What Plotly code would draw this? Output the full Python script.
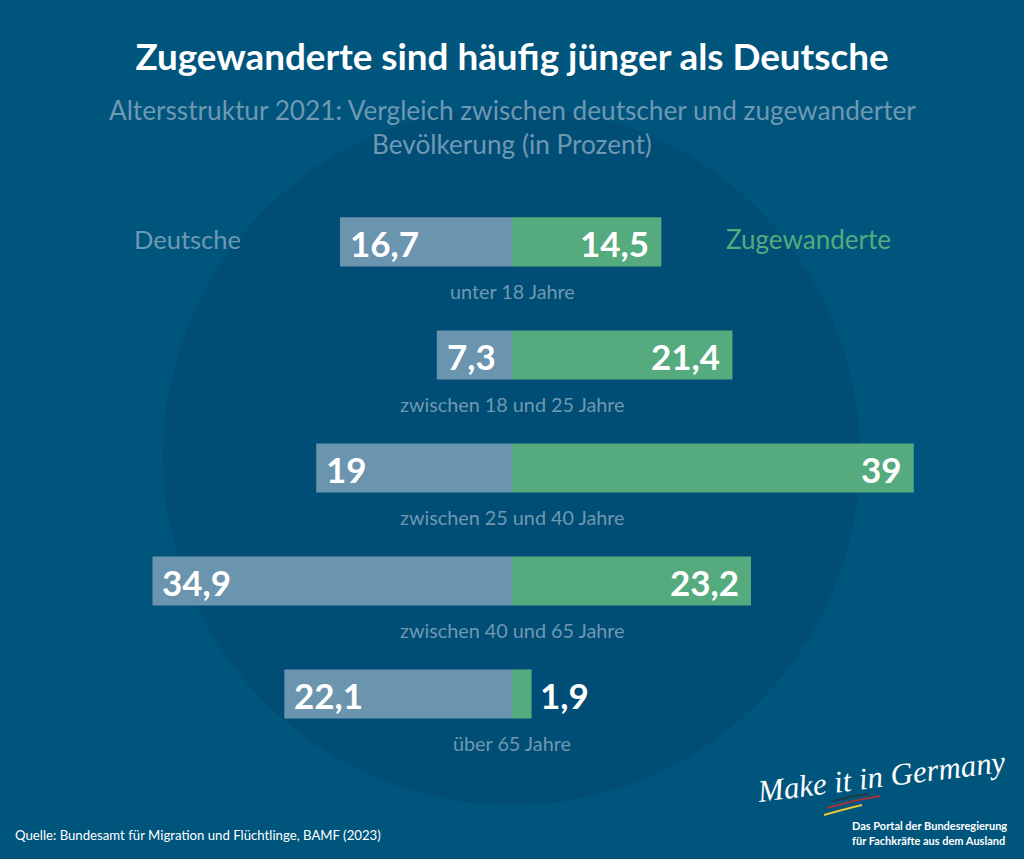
import plotly.graph_objects as go

# Data
categories = ["unter 18 Jahre", "zwischen 18 und 25 Jahre", "zwischen 25 und 40 Jahre",
              "zwischen 40 und 65 Jahre", "über 65 Jahre"]
deutsche = [16.7, 7.3, 19, 34.9, 22.1]
zugewanderte = [14.5, 21.4, 39, 23.2, 1.9]

W, H = 1024, 859
BG, CIRCLE = "#00557d", "#004d75"
BLUE, GREEN = "#6b94ae", "#55ab7e"
LABEL = "#6f98b2"
FONT = "Lato"

def fmt(v):
    return str(v).replace(".", ",")

fig = go.Figure()
fig.add_bar(y=categories, x=[-v for v in deutsche], orientation="h", name="Deutsche",
            marker=dict(color=BLUE, line_width=0), width=0.434,
            hovertemplate="%{y}: %{customdata}<extra>Deutsche</extra>", customdata=deutsche)
fig.add_bar(y=categories, x=zugewanderte, orientation="h", name="Zugewanderte",
            marker=dict(color=GREEN, line_width=0), width=0.434,
            hovertemplate="%{y}: %{x}<extra>Zugewanderte</extra>")

ann = []
def note(text, x, y, size, color, anchor="center", weight=None, **kw):
    ann.append(dict(text=text, x=x, y=y, xref="paper", yref="paper", xanchor=anchor, yanchor="middle",
                    showarrow=False, font=dict(family=kw.pop("family", FONT), size=size, color=color,
                                               weight=weight, style=kw.pop("style", "normal")), **kw))

for c, d, z in zip(categories, deutsche, zugewanderte):
    common = dict(yref="y", xref="x", y=c, yanchor="middle", yshift=-1, showarrow=False,
                  font=dict(family=FONT, size=35, color="white", weight=700))
    ann.append(dict(text=fmt(d), x=-d, xanchor="left", xshift=8, **common))
    if z < 5:
        ann.append(dict(text=fmt(z), x=z, xanchor="left", xshift=6, **common))
    else:
        ann.append(dict(text=fmt(z), x=z, xanchor="right", xshift=-10, **common))
    ann.append(dict(text=c, x=0, y=c, xref="x", yref="y", xanchor="center", yanchor="middle", yshift=-49,
                    showarrow=False, font=dict(family=FONT, size=19.8, color=LABEL)))

py = lambda p: 1 - p / H
px = lambda p: p / W
note("Altersstruktur 2021: Vergleich zwischen deutscher und zugewanderter", px(512), py(110), 26.2, LABEL)
note("Bevölkerung (in Prozent)", px(512), py(144), 26.2, LABEL)
note("Deutsche", px(187), py(239), 25.5, LABEL)
note("Zugewanderte", px(808), py(239), 26, GREEN)
note("Quelle: Bundesamt für Migration und Flüchtlinge, BAMF (2023)", px(13), py(835), 13.2, "white", anchor="left")
note("Das Portal der Bundesregierung", px(850), py(825), 11, "white", anchor="left", weight=700)
note("für Fachkräfte aus dem Ausland", px(850), py(840), 11, "white", anchor="left", weight=700)
note("Make it in Germany", px(881), py(776), 31, "white", family="Liberation Serif", style="italic", textangle=-7)

def stroke(x0, y0, x1, y1, x2, y2, color):
    return dict(type="path", xref="paper", yref="paper", layer="above",
                path=f"M {px(x0)} {py(y0)} Q {px(x1)} {py(y1)} {px(x2)} {py(y2)}",
                line=dict(color=color, width=2))

shapes = [
    dict(type="circle", xref="paper", yref="paper", layer="below", x0=px(163), x1=px(860),
         y0=py(805), y1=py(107), fillcolor=CIRCLE, line_width=0),
    stroke(833, 801, 850, 796, 868, 794, "#1f3a40"),
    stroke(827, 808, 855, 800, 880, 796, "#a0333c"),
    stroke(824, 815, 845, 809, 862, 805, "#e5c53a"),
]

fig.update_layout(
    width=W, height=H, margin=dict(l=0, r=0, t=0, b=0), autosize=False,
    paper_bgcolor=BG, plot_bgcolor="rgba(0,0,0,0)", barmode="overlay", showlegend=False,
    title=dict(text="Zugewanderte sind häufig jünger als Deutsche", x=0.5, xanchor="center",
               xref="paper", y=py(57), yanchor="middle",
               font=dict(family=FONT, size=36.8, color="white", weight=700)),
    xaxis=dict(range=[-49.7, 49.7], visible=False, fixedrange=True),
    yaxis=dict(type="category", categoryorder="array", categoryarray=categories,
               range=[5.46, -2.14], visible=False, fixedrange=True),
    annotations=ann, shapes=shapes, font=dict(family=FONT),
)
fig.write_html("out.html", post_script="document.body.style.margin='0';", config=dict(displayModeBar=False))
